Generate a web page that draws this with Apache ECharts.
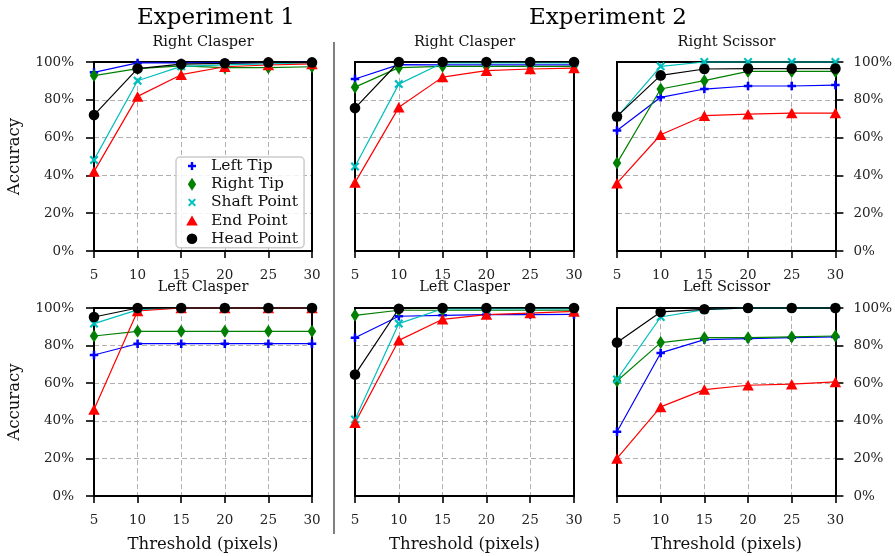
<!DOCTYPE html>
<html>
<head>
<meta charset="utf-8">
<script src="https://cdn.jsdelivr.net/npm/echarts@6/dist/echarts.min.js"></script>
<style>
html,body{margin:0;padding:0;background:#fff;}
#chart{width:895px;height:556px;}
</style>
</head>
<body>
<div id="chart"></div>
<script>
// ---------------- data ----------------
const thresholds = [5, 10, 15, 20, 25, 30];
const seriesNames = ['Left Tip', 'Right Tip', 'Shaft Point', 'End Point', 'Head Point'];
const experimentTitles = ['Experiment 1', 'Experiment 2'];
const panelTitles = ['Right Clasper', 'Right Clasper', 'Right Scissor', 'Left Clasper', 'Left Clasper', 'Left Scissor'];

// rows: Left Tip, Right Tip, Shaft Point, End Point, Head Point (accuracy %)
const exp1RightClasper = [
  [94.5, 99.5, 99.5, 99.5, 99.7, 99.8],
  [92.8, 96.5, 98.0, 97.0, 97.0, 97.5],
  [48.2, 90.1, 97.7, 98.5, 99.0, 99.5],
  [42.0, 81.8, 93.3, 97.5, 98.4, 99.0],
  [71.9, 96.5, 98.9, 99.3, 99.8, 99.8]
];
const exp2RightClasper = [
  [91.0, 98.6, 98.5, 98.5, 98.5, 98.5],
  [86.7, 97.0, 97.7, 97.7, 97.7, 97.7],
  [44.7, 88.3, 99.5, 99.5, 99.5, 99.5],
  [36.2, 76.0, 92.0, 95.4, 96.3, 96.8],
  [75.6, 100, 100, 100, 100, 100]
];
const exp2RightScissor = [
  [63.8, 81.3, 85.7, 87.3, 87.3, 87.8],
  [46.5, 85.7, 90.1, 95.0, 95.0, 95.0],
  [70.8, 97.7, 100, 100, 100, 100],
  [35.9, 61.5, 71.6, 72.4, 73.0, 73.0],
  [71.2, 92.9, 96.3, 96.5, 96.5, 96.5]
];
const exp1LeftClasper = [
  [75.0, 81.0, 81.0, 81.0, 81.0, 81.0],
  [85.1, 87.6, 87.6, 87.6, 87.6, 87.6],
  [91.7, 99.0, 100, 100, 100, 100],
  [46.0, 98.4, 100, 100, 100, 100],
  [95.2, 100, 100, 100, 100, 100]
];
const exp2LeftClasper = [
  [84.2, 95.6, 96.1, 96.5, 96.5, 96.6],
  [96.1, 98.8, 98.8, 98.8, 98.8, 98.8],
  [40.7, 91.7, 99.6, 99.5, 99.5, 99.5],
  [38.9, 82.8, 94.0, 96.5, 97.3, 98.2],
  [64.6, 99.6, 100, 100, 100, 100]
];
const exp2LeftScissor = [
  [34.2, 76.1, 83.2, 83.7, 84.2, 84.6],
  [61.2, 81.6, 84.2, 84.2, 84.6, 85.1],
  [62.0, 95.2, 99.1, 100, 100, 100],
  [20.0, 47.4, 56.6, 58.9, 59.5, 60.7],
  [81.6, 97.9, 99.3, 100, 100, 100]
];
const panelData = [exp1RightClasper, exp2RightClasper, exp2RightScissor,
                   exp1LeftClasper, exp2LeftClasper, exp2LeftScissor];

// ---------------- styles ----------------
const FONT = 'DejaVu Serif';
const colors = ['#0000ff', '#008000', '#00bfbf', '#ff0000', '#000000'];
const plusPath = 'M-1.2,-4L1.2,-4L1.2,-1.2L4,-1.2L4,1.2L1.2,1.2L1.2,4L-1.2,4L-1.2,1.2L-4,1.2L-4,-1.2L-1.2,-1.2Z';
const diamondPath = 'M0,-6.5L4.2,0L0,6.5L-4.2,0Z';
const xPath = 'M-4,-2.6L-2.6,-4L0,-1.4L2.6,-4L4,-2.6L1.4,0L4,2.6L2.6,4L0,1.4L-2.6,4L-4,2.6L-1.4,0Z';
const triPath = 'M0,-5.2L5.8,4.8L-5.8,4.8Z';
const circlePath = 'M-5.3,0A5.3,5.3,0,1,1,5.3,0A5.3,5.3,0,1,1,-5.3,0Z';
const shapePaths = [plusPath, diamondPath, xPath, triPath, circlePath];
const symbolSizes = [[8.5, 8.5], [8.5, 13], [9, 9], [11.5, 10.5], [10.6, 10.6]];

// layout
const colLeft = [94, 355, 617];
const colWidth = [218, 219, 219];
const rowTop = [62, 308];
const rowHeight = [189, 188];

const grids = [], xAxes = [], yAxes = [], series = [], graphics = [];
for (let i = 0; i < 6; i++) {
  const r = Math.floor(i / 3), c = i % 3;
  grids.push({
    left: colLeft[c], top: rowTop[r], width: colWidth[c], height: rowHeight[r],
    show: false, containLabel: false
  });
  xAxes.push({
    type: 'value', gridIndex: i, min: 5, max: 30, interval: 5,
    axisLine: { show: false },
    axisTick: { show: true, length: 7, lineStyle: { color: '#000', width: 1.6 } },
    axisLabel: { margin: 17, color: '#222', fontFamily: FONT, fontSize: 13.5 },
    splitLine: { show: true, lineStyle: { color: '#b0b0b0', type: [5, 3], width: 1 } }
  });
  const side = c === 0 ? 'left' : 'right';
  const showLab = c !== 1;
  yAxes.push({
    type: 'value', gridIndex: i, min: 0, max: 100, interval: 20, position: side,
    axisLine: { show: false },
    axisTick: { show: showLab, length: 8, lineStyle: { color: '#000', width: 1.6 } },
    axisLabel: { show: showLab, margin: c === 0 ? 20 : 18, color: '#222', fontFamily: FONT, fontSize: 13.5, formatter: '{value}%' },
    splitLine: { show: true, lineStyle: { color: '#b0b0b0', type: [5, 3], width: 1 } }
  });
  // black frame of each panel (above grid lines, below data)
  graphics.push({
    type: 'rect', z: 1, silent: true,
    shape: { x: colLeft[c], y: rowTop[r], width: colWidth[c], height: rowHeight[r] },
    style: { fill: null, stroke: '#000', lineWidth: 2 }
  });
  seriesNames.forEach((name, k) => {
    series.push({
      type: 'line', name: name, xAxisIndex: i, yAxisIndex: i,
      data: thresholds.map((t, j) => [t, panelData[i][k][j]]),
      symbol: 'path://' + shapePaths[k], symbolSize: symbolSizes[k],
      showSymbol: true, clip: false, animation: false, z: 3,
      itemStyle: { color: colors[k], borderWidth: 0 },
      lineStyle: { color: colors[k], width: 1.2 },
      emphasis: { disabled: true }
    });
  });
}

const frame = 'M-14,-6.5M14,6.5';
const legend = {
  show: true, orient: 'vertical', left: 176, top: 157, z: 10,
  itemWidth: 28, itemHeight: 13, itemGap: 2.2,
  padding: [1, 6, 1, 2],
  backgroundColor: 'rgba(255,255,255,0.85)', borderColor: '#cccccc', borderWidth: 1.5, borderRadius: 4,
  textStyle: { fontFamily: FONT, fontSize: 15.5, color: '#111', lineHeight: 15 },
  selectedMode: false,
  data: seriesNames.map((n, k) => ({ name: n, icon: 'path://' + frame + shapePaths[k], itemStyle: { color: colors[k] } }))
};

const expCenters = [216, 608];
experimentTitles.forEach((t, i) => graphics.push({
  type: 'text', x: expCenters[i], y: 18,
  style: { text: t, fontFamily: FONT, fontSize: 23, fill: '#000', textAlign: 'center', textVerticalAlign: 'middle' }
}));
panelTitles.forEach((t, i) => {
  const r = Math.floor(i / 3), c = i % 3;
  graphics.push({
    type: 'text', x: colLeft[c] + colWidth[c] / 2, y: r === 0 ? 42 : 287,
    style: { text: t, fontFamily: FONT, fontSize: 14.5, fill: '#111', textAlign: 'center', textVerticalAlign: 'middle' }
  });
});
[0, 1].forEach(r => graphics.push({
  type: 'text', x: 15, y: rowTop[r] + rowHeight[r] / 2, rotation: Math.PI / 2,
  style: { text: 'Accuracy', fontFamily: FONT, fontSize: 16.5, fill: '#111', textAlign: 'center', textVerticalAlign: 'middle' }
}));
[0, 1, 2].forEach(c => graphics.push({
  type: 'text', x: colLeft[c] + colWidth[c] / 2, y: 545,
  style: { text: 'Threshold (pixels)', fontFamily: FONT, fontSize: 16.5, fill: '#111', textAlign: 'center', textVerticalAlign: 'middle' }
}));
graphics.push({
  type: 'line', shape: { x1: 334, y1: 42, x2: 334, y2: 534 },
  style: { stroke: '#555', lineWidth: 1.5 }
});

const chart = echarts.init(document.getElementById('chart'), null, { renderer: 'canvas' });
chart.setOption({
  backgroundColor: '#fff',
  animation: false,
  grid: grids, xAxis: xAxes, yAxis: yAxes, series: series,
  legend: legend,
  graphic: graphics
});
</script>
</body>
</html>
